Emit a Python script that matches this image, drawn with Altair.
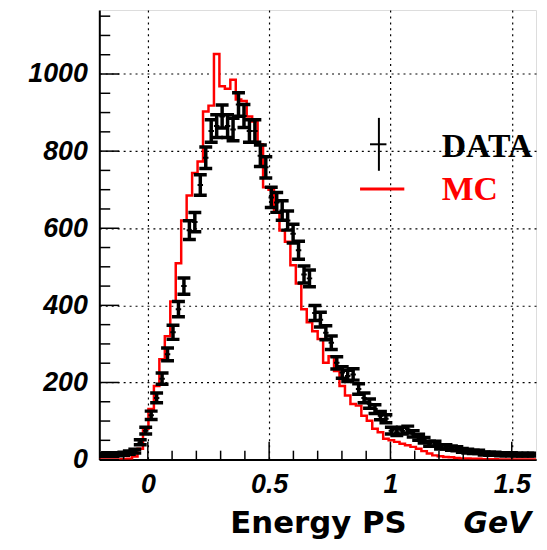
import altair as alt
import numpy as np
import pandas as pd

# ---------------- data ----------------
x_min, x_max = -0.2, 1.6
y_max = 1166
bin_width = 0.0225

mc_counts = [0, 0, 0, 0, 1, 2, 8, 28, 80, 131,
             191, 260, 320, 410, 509, 620, 685, 743, 773, 903,
             918, 1052, 968, 962, 985, 934, 930, 890, 877, 818,
             706, 700, 640, 594, 565, 504, 457, 390, 356, 333,
             313, 251, 268, 230, 191, 166, 144, 140, 114, 101,
             80, 71, 54, 50, 46, 41, 37, 33, 28, 22,
             16, 11, 9, 7, 6, 4, 3, 3, 2, 2,
             1, 1, 1, 0, 0, 0, 0, 0, 0, 0]

data_counts = [12, 14, 12, 14, 15, 18, 22, 45, 75, 115,
               160, 210, 273, 330, 390, 450, 595, 616, 712, 783,
               852, 865, 890, 865, 856, 921, 891, 852, 852, 788,
               758, 680, 667, 646, 620, 586, 543, 480, 470, 380,
               363, 329, 303, 251, 226, 217, 221, 183, 160, 145,
               131, 114, 106, 75, 71, 75, 78, 67, 58, 50,
               41, 41, 33, 33, 30, 28, 24, 22, 20, 20,
               16, 15, 15, 14, 14, 14, 13, 13, 13, 13]

x_major = [0, 0.5, 1, 1.5]
x_minor = [-0.1, 0.1, 0.2, 0.3, 0.4, 0.6, 0.7, 0.8, 0.9, 1.1, 1.2, 1.3, 1.4]
y_major = [0, 200, 400, 600, 800, 1000]
y_minor = [50, 100, 150, 250, 300, 350, 450, 500, 550, 650, 700, 750,
           850, 900, 950, 1050, 1100, 1150]

# ---------------- derived tables ----------------
n = len(mc_counts)
edges = x_min + bin_width * np.arange(n + 1)
lo, hi = edges[:-1], edges[1:]
centers = (lo + hi) / 2

mc_df = pd.DataFrame({"x": edges, "y": mc_counts + [mc_counts[-1]]})
err = np.sqrt(np.array(data_counts, dtype=float))
dat = pd.DataFrame({"x": centers, "lo": lo, "hi": hi, "y": data_counts,
                    "ylo": np.array(data_counts) - err,
                    "yhi": np.array(data_counts) + err})

W, H = 440, 453
xs = alt.Scale(domain=[x_min, x_max], nice=False, zero=False)
ys = alt.Scale(domain=[0, y_max], nice=False, zero=False)

lab = dict(labelFont="Liberation Sans", labelFontWeight="bold",
           labelFontStyle="italic", labelFontSize=27, labelColor="black",
           labelFlush=False, ticks=False,
           grid=True, gridDash=[2, 4], gridColor="black", gridWidth=1.2,
           domain=True, domainColor="black", domainWidth=2, title=None)
xaxis = alt.Axis(values=x_major, labelPadding=12,
                 labelExpr="'' + datum.value", **lab)
yaxis = alt.Axis(values=y_major, labelPadding=12,
                 labelExpr="datum.value == 0 ? '0\u00a0' : '' + datum.value", **lab)


def X(field):
    return alt.X(field, scale=xs, axis=xaxis)


def Y(field):
    return alt.Y(field, scale=ys, axis=yaxis)


mc = alt.Chart(mc_df).mark_line(
    interpolate="step-after", color="red", strokeWidth=2.5, clip=True
).encode(x=X("x:Q"), y=Y("y:Q"))

ebar = alt.Chart(dat).mark_rule(color="black", strokeWidth=3.5, clip=True).encode(
    x=X("x:Q"), y=Y("ylo:Q"), y2="yhi:Q")
xerr = alt.Chart(dat).mark_rule(color="black", strokeWidth=2, clip=True).encode(
    x=X("lo:Q"), x2="hi:Q", y=Y("y:Q"))
cap_top = alt.Chart(dat).mark_tick(orient="horizontal", size=13, thickness=3.5,
                                   color="black", opacity=1, clip=True).encode(
    x=X("x:Q"), y=Y("yhi:Q"))
cap_bot = alt.Chart(dat).mark_tick(orient="horizontal", size=13, thickness=3.5,
                                   color="black", opacity=1, clip=True).encode(
    x=X("x:Q"), y=Y("ylo:Q"))


def yticks(vals, length):
    return alt.Chart(pd.DataFrame({"v": vals})).mark_rule(
        color="black", strokeWidth=1.5).encode(
        y=Y("v:Q"), x=alt.value(0), x2=alt.value(length))


def xticks(vals, length):
    return alt.Chart(pd.DataFrame({"v": vals})).mark_rule(
        color="black", strokeWidth=1.5).encode(
        x=X("v:Q"), y=alt.value(H), y2=alt.value(H - length))


one = pd.DataFrame({"a": [0]})


def label(text, x, y, font, size, color="black", style="normal", weight="bold"):
    return alt.Chart(one).mark_text(
        text=text, font=font, fontSize=size, fontWeight=weight, fontStyle=style,
        color=color, align="left", baseline="alphabetic").encode(
        x=alt.value(x), y=alt.value(y))


def seg(x1, x2, y1, y2, color, width):
    return alt.Chart(one).mark_rule(color=color, strokeWidth=width).encode(
        x=alt.value(x1), x2=alt.value(x2), y=alt.value(y1), y2=alt.value(y2))


chart = alt.layer(
    mc,
    xerr, ebar, cap_top, cap_bot,
    yticks(y_major, 20), yticks(y_minor, 11),
    xticks(x_major, 18), xticks(x_minor, 9),
    seg(281.7, 281.7, 108.7, 162, "black", 2),
    seg(272.7, 289.3, 135.3, 135.3, "black", 2),
    seg(262.7, 307.3, 180.3, 180.3, "red", 3),
    label("DATA", 345, 148, "Liberation Serif", 34),
    label("MC", 345, 191, "Liberation Serif", 34, color="red"),
    label("Energy PS", 132, 527, "DejaVu Sans", 31),
    label("GeV", 367, 527, "DejaVu Sans", 30, style="italic"),
).properties(
    width=W, height=H,
    autosize=alt.AutoSizeParams(type="none"),
    padding={"left": 92, "top": 0, "right": 3, "bottom": 81},
).configure_view(stroke="black", strokeWidth=1.5).configure(background="white")

chart.save("out.html", embed_options={"renderer": "svg", "actions": False})
